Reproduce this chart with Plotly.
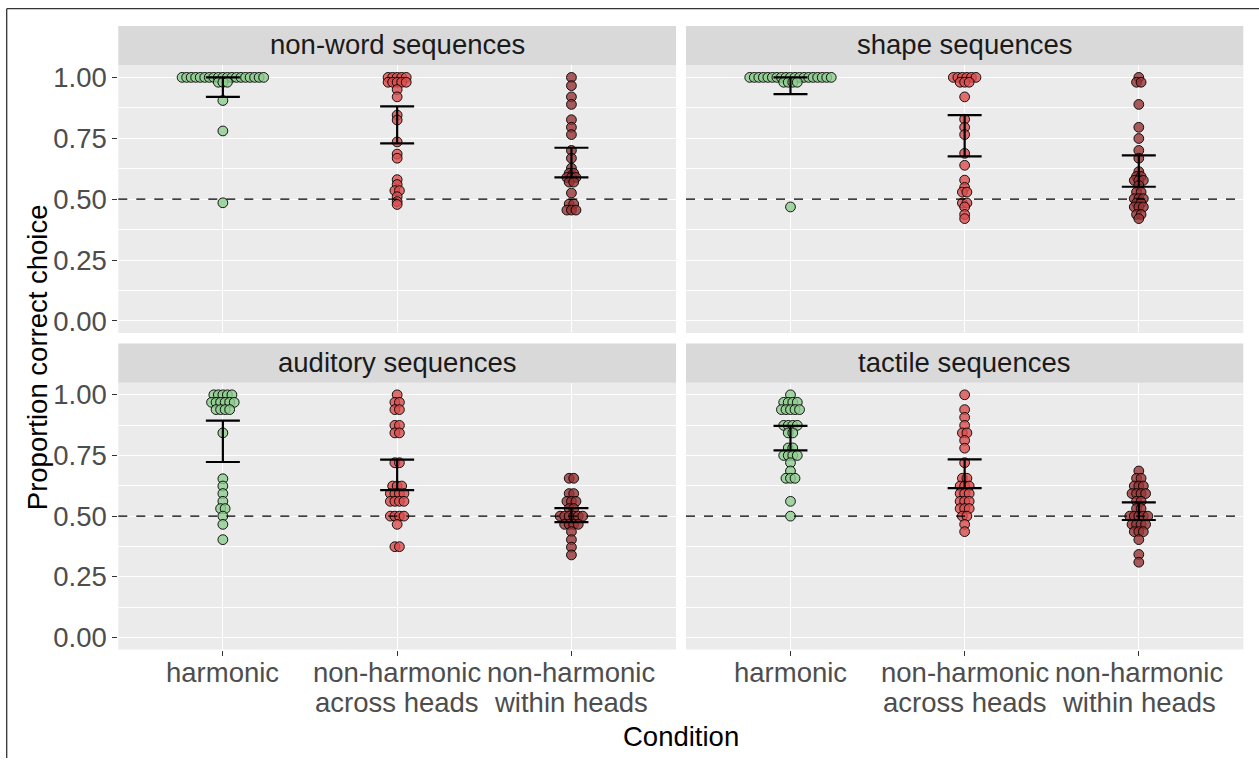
import plotly.graph_objects as go

W, H = 1259, 761

conditions = ["harmonic", "non-harmonic<br>across heads", "non-harmonic<br>within heads"]
facets = ["non-word sequences", "shape sequences", "auditory sequences", "tactile sequences"]

# ---- data: proportion-correct values and how many participants share each value ----
nonword_harm_vals = [1.00, 0.98, 0.905, 0.78, 0.485]
nonword_harm_n = [19, 3, 1, 1, 1]
nonword_acr_vals = [1.00, 0.98, 0.95, 0.92, 0.845, 0.825, 0.735, 0.685, 0.668, 0.58, 0.56, 0.535, 0.51, 0.49, 0.478]
nonword_acr_n = [5, 5, 1, 1, 1, 1, 1, 1, 1, 1, 1, 2, 1, 1, 1]
nonword_win_vals = [1.00, 0.966, 0.92, 0.889, 0.826, 0.795, 0.765, 0.70, 0.668, 0.627, 0.606, 0.589, 0.57, 0.525, 0.48, 0.455]
nonword_win_n = [1, 1, 1, 1, 1, 1, 1, 1, 1, 1, 2, 3, 2, 1, 2, 3]

shape_harm_vals = [1.00, 0.98, 0.468]
shape_harm_n = [19, 4, 1]
shape_acr_vals = [1.00, 0.98, 0.92, 0.828, 0.795, 0.765, 0.688, 0.639, 0.578, 0.548, 0.529, 0.484, 0.468, 0.437, 0.42]
shape_acr_n = [6, 3, 1, 1, 1, 1, 1, 1, 1, 1, 2, 2, 1, 1, 1]
shape_win_vals = [1.00, 0.98, 0.889, 0.795, 0.749, 0.70, 0.668, 0.613, 0.593, 0.577, 0.556, 0.529, 0.502, 0.484, 0.468, 0.437, 0.42]
shape_win_n = [1, 2, 1, 1, 1, 1, 1, 1, 2, 3, 1, 2, 3, 2, 3, 2, 1]

auditory_harm_vals = [1.00, 0.969, 0.939, 0.843, 0.654, 0.624, 0.593, 0.561, 0.531, 0.50, 0.466, 0.403]
auditory_harm_n = [5, 6, 4, 1, 1, 1, 1, 1, 2, 1, 1, 1]
auditory_acr_vals = [1.00, 0.969, 0.939, 0.874, 0.843, 0.72, 0.624, 0.593, 0.561, 0.50, 0.466, 0.374]
auditory_acr_n = [1, 2, 2, 2, 2, 2, 3, 4, 4, 4, 1, 2]
auditory_win_vals = [0.656, 0.593, 0.561, 0.531, 0.50, 0.466, 0.436, 0.403, 0.372, 0.34]
auditory_win_n = [2, 2, 3, 2, 6, 4, 1, 1, 1, 1]

tactile_harm_vals = [1.00, 0.969, 0.939, 0.874, 0.843, 0.781, 0.75, 0.72, 0.686, 0.656, 0.561, 0.50]
tactile_harm_n = [1, 4, 5, 4, 2, 2, 4, 1, 1, 3, 1, 1]
tactile_acr_vals = [1.00, 0.939, 0.907, 0.874, 0.843, 0.812, 0.78, 0.72, 0.656, 0.624, 0.593, 0.561, 0.531, 0.50, 0.466, 0.436]
tactile_acr_n = [1, 1, 1, 1, 2, 1, 1, 1, 2, 3, 3, 3, 3, 2, 1, 1]
tactile_win_vals = [0.686, 0.656, 0.624, 0.593, 0.561, 0.531, 0.50, 0.466, 0.436, 0.403, 0.342, 0.31]
tactile_win_n = [1, 2, 3, 4, 2, 2, 5, 4, 3, 1, 1, 1]

# 95% CI of the mean per condition (lower, upper)
nonword_ci_low = [0.920, 0.729, 0.589]
nonword_ci_high = [1.000, 0.881, 0.711]
shape_ci_low = [0.931, 0.676, 0.551]
shape_ci_high = [1.000, 0.845, 0.680]
auditory_ci_low = [0.723, 0.607, 0.475]
auditory_ci_high = [0.894, 0.733, 0.533]
tactile_ci_low = [0.771, 0.615, 0.484]
tactile_ci_high = [0.872, 0.734, 0.557]

chance_level = 0.5
y_ticks = [0, 0.25, 0.5, 0.75, 1.0]
y_ticktext = ["0.00", "0.25", "0.50", "0.75", "1.00"]

panel_data = [
    ([(nonword_harm_vals, nonword_harm_n), (nonword_acr_vals, nonword_acr_n), (nonword_win_vals, nonword_win_n)],
     nonword_ci_low, nonword_ci_high),
    ([(shape_harm_vals, shape_harm_n), (shape_acr_vals, shape_acr_n), (shape_win_vals, shape_win_n)],
     shape_ci_low, shape_ci_high),
    ([(auditory_harm_vals, auditory_harm_n), (auditory_acr_vals, auditory_acr_n), (auditory_win_vals, auditory_win_n)],
     auditory_ci_low, auditory_ci_high),
    ([(tactile_harm_vals, tactile_harm_n), (tactile_acr_vals, tactile_acr_n), (tactile_win_vals, tactile_win_n)],
     tactile_ci_low, tactile_ci_high),
]

# ---- styling ----
FILL = ["rgba(142,204,142,0.8)", "rgba(218,78,78,0.8)", "rgba(150,52,52,0.8)"]
FONT = "Liberation Sans, Arial, sans-serif"
TXT = 27.5
STEP = 0.026  # horizontal stacking step (category units)

# panel pixel boxes (left, right) / (top, bottom) and strip height
cols_px = [(118.3, 676.0), (686.0, 1243.3)]
rows_px = [(62.7, 332.7), (382.7, 651.7)]
strip_h = 39.5
xlab_line_px = [675, 705]   # centre of first / second line of x tick labels
x_line_gap = xlab_line_px[1] - xlab_line_px[0]


def px_x(x):
    return x / W


def px_y(y):
    return 1 - y / H


fig = go.Figure()

for k, (groups, lo, hi) in enumerate(panel_data):
    r, c = divmod(k, 2)
    ax = "" if k == 0 else str(k + 1)
    xref, yref = "x" + ax, "y" + ax
    for ci, (vals, ns) in enumerate(groups):
        xs, ys = [], []
        for v, n in zip(vals, ns):
            for i in range(n):
                xs.append(ci + 1 + (i - (n - 1) / 2) * STEP)
                ys.append(v)
        fig.add_trace(go.Scatter(
            x=xs, y=ys, mode="markers", xaxis=xref, yaxis=yref, showlegend=False,
            marker=dict(size=9.8, color=FILL[ci], line=dict(color="black", width=0.9)),
            hoverinfo="y"))
    mids = [(a + b) / 2 for a, b in zip(lo, hi)]
    half = [(b - a) / 2 for a, b in zip(lo, hi)]
    fig.add_trace(go.Scatter(
        x=[1, 2, 3], y=mids, mode="markers", xaxis=xref, yaxis=yref, showlegend=False,
        marker=dict(size=1, color="rgba(0,0,0,0)"),
        error_y=dict(type="data", array=half, visible=True, color="black", thickness=2.2, width=17),
        hoverinfo="skip"))

    x0, x1 = cols_px[c]
    y0, y1 = rows_px[r]
    xa = dict(domain=[px_x(x0), px_x(x1)], range=[0.4, 3.6], anchor=yref,
              tickvals=[1, 2, 3], ticktext=conditions,
              showticklabels=False, ticks="outside" if r == 1 else "",
              ticklen=5, tickcolor="#333333", tickwidth=1,
              showgrid=True, gridcolor="white", gridwidth=1.1, zeroline=False,
              showline=False, fixedrange=True)
    ya = dict(domain=[px_y(y1), px_y(y0)], range=[-0.05, 1.05], anchor=xref,
              tickvals=y_ticks, ticktext=y_ticktext,
              showticklabels=(c == 0), ticks="outside" if c == 0 else "",
              ticklen=5, tickcolor="#333333", tickwidth=1,
              showgrid=True, gridcolor="white", gridwidth=1.1, zeroline=False,
              minor=dict(tickvals=[0.125, 0.375, 0.625, 0.875], showgrid=True,
                         gridcolor="white", gridwidth=0.55, ticks=""),
              tickfont=dict(family=FONT, size=TXT, color="#4D4D4D"),
              showline=False, fixedrange=True)
    fig.layout["xaxis" + ax] = xa
    fig.layout["yaxis" + ax] = ya

    # x tick labels (ggplot-style tight line spacing) on bottom row
    if r == 1:
        for ci, lab in enumerate(conditions):
            for li, part in enumerate(lab.split("<br>")):
                fig.add_annotation(x=ci + 1, xref=xref, y=px_y(xlab_line_px[0] + li * x_line_gap),
                                   yref="paper", text=part, showarrow=False,
                                   font=dict(family=FONT, size=TXT, color="#4D4D4D"),
                                   xanchor="center", yanchor="middle")

    # panel background
    fig.add_shape(type="rect", xref="paper", yref="paper",
                  x0=px_x(x0), x1=px_x(x1), y0=px_y(y1), y1=px_y(y0),
                  fillcolor="#EBEBEB", line_width=0, layer="below")
    # strip
    fig.add_shape(type="rect", xref="paper", yref="paper",
                  x0=px_x(x0), x1=px_x(x1), y0=px_y(y0), y1=px_y(y0 - strip_h),
                  fillcolor="#D9D9D9", line_width=0, layer="below")
    fig.add_annotation(x=(px_x(x0) + px_x(x1)) / 2, y=px_y(y0 - strip_h / 2 - 1),
                       xref="paper", yref="paper", text=facets[k], showarrow=False,
                       font=dict(family=FONT, size=TXT, color="#1A1A1A"),
                       xanchor="center", yanchor="middle")
    # chance line
    fig.add_shape(type="line", xref=xref + " domain", yref=yref,
                  x0=0, x1=1, y0=chance_level, y1=chance_level,
                  line=dict(color="black", width=1.4, dash="dash"))

# axis titles
fig.add_annotation(x=px_x(680.5), y=px_y(739), xref="paper", yref="paper",
                   text="Condition", showarrow=False,
                   font=dict(family=FONT, size=TXT, color="black"),
                   xanchor="center", yanchor="middle")
fig.add_annotation(x=px_x(37), y=px_y(357), xref="paper", yref="paper",
                   text="Proportion correct choice", showarrow=False, textangle=-90,
                   font=dict(family=FONT, size=TXT, color="black"),
                   xanchor="center", yanchor="middle")

# outer frame (left and top edges visible)
fig.add_shape(type="line", xref="paper", yref="paper",
              x0=px_x(6.7), x1=px_x(6.7), y0=0, y1=px_y(5.7),
              line=dict(color="#333333", width=1.3))
fig.add_shape(type="line", xref="paper", yref="paper",
              x0=px_x(6.7), x1=1, y0=px_y(5.7), y1=px_y(5.7),
              line=dict(color="#333333", width=1.3))

fig.update_layout(width=W, height=H, margin=dict(l=0, r=0, t=0, b=0),
                  paper_bgcolor="white", plot_bgcolor="rgba(0,0,0,0)",
                  showlegend=False, font=dict(family=FONT))

fig.write_html("out.html", config={"displayModeBar": False},
               post_script="document.body.style.margin='0';document.body.style.overflow='hidden';")
